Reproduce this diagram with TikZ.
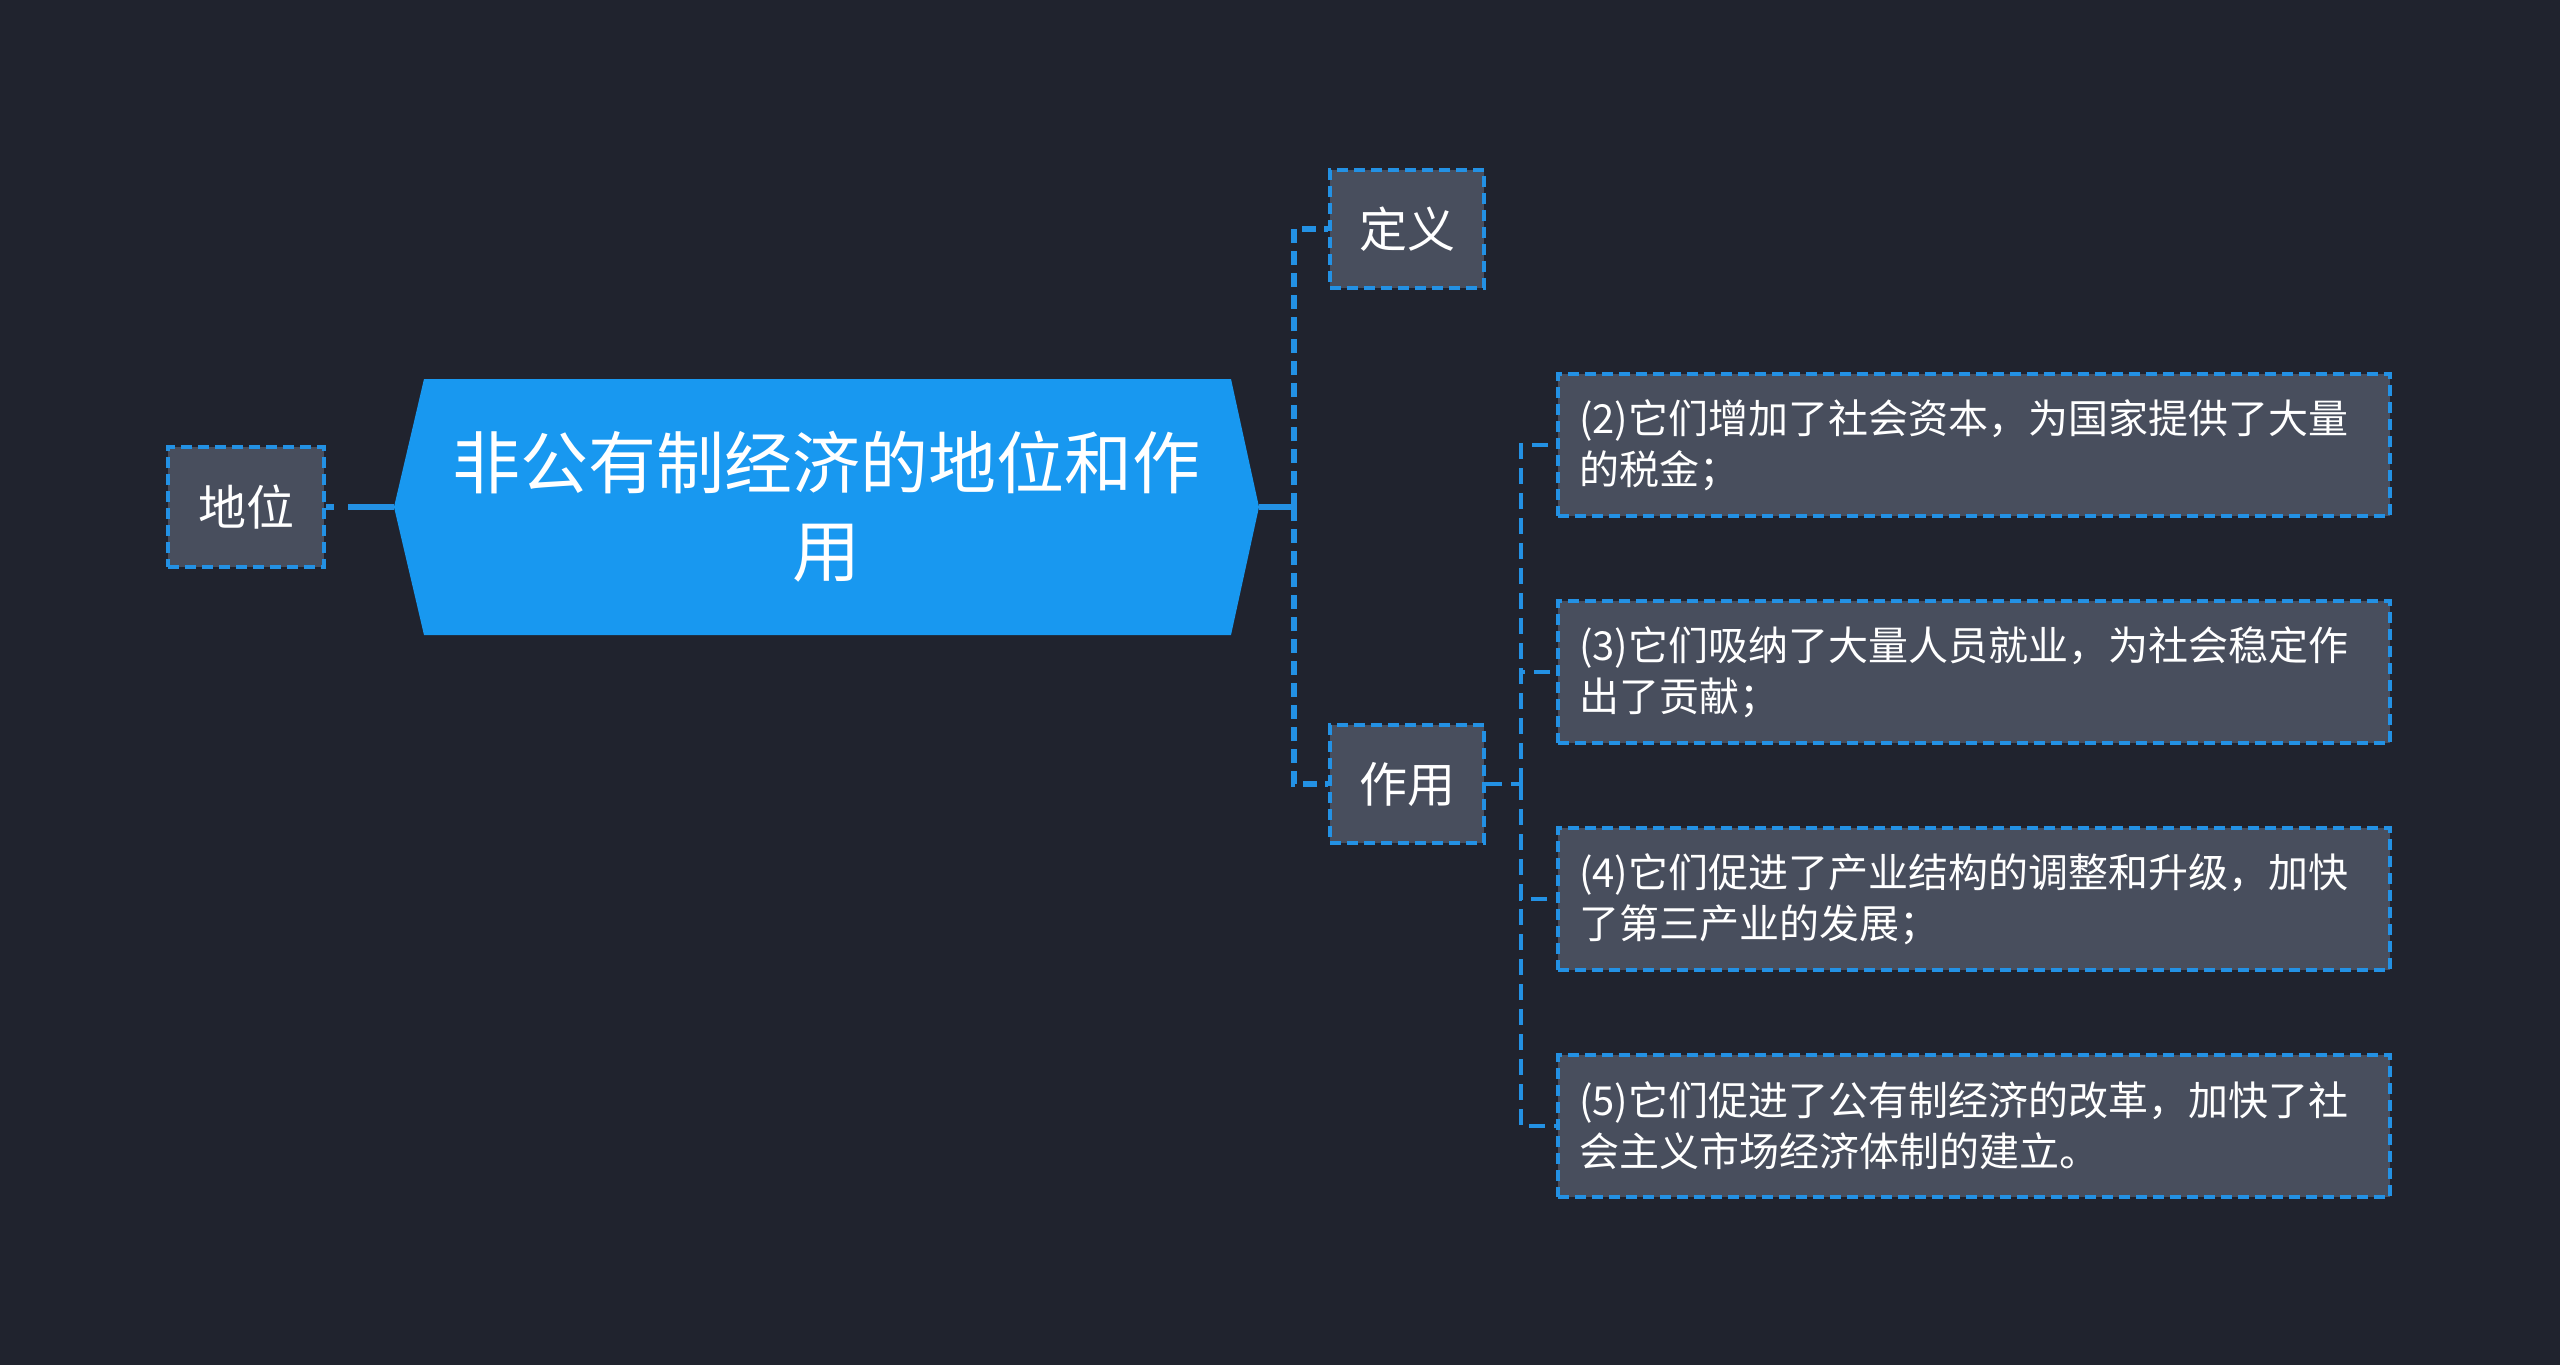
\documentclass[tikz,border=0pt]{standalone}
\usepackage{fontspec}
\newfontfamily\cjk{Noto Sans CJK SC}
\definecolor{bgc}{RGB}{32,35,46}
\definecolor{boxc}{RGB}{72,78,93}
\definecolor{hexc}{RGB}{24,152,240}
\definecolor{linec}{RGB}{35,145,228}
\tikzset{
  lbox/.style={draw=linec, fill=boxc, line width=3.5pt, dash pattern=on 11pt off 6pt,
    text=white, inner sep=0pt, minimum width=154pt, minimum height=118pt,
    font={\cjk\fontsize{48}{58}\selectfont}},
  leafbox/.style={draw=linec, fill=boxc, line width=3.5pt, dash pattern=on 11pt off 6pt,
    text=white, inner xsep=21pt, inner ysep=0pt, text width=790pt, align=left,
    minimum height=142pt, font={\cjk\fontsize{40}{51}\selectfont}},
  conn/.style={draw=linec, line width=5.5pt, dash pattern=on 14pt off 8pt},
  leafconn/.style={draw=linec, line width=3.5pt, dash pattern=on 16pt off 9pt},
}
\begin{document}
\begin{tikzpicture}[x=1pt,y=-1pt]
\useasboundingbox (0,0) rectangle (2560,1365);
\fill[bgc] (0,0) rectangle (2560,1365);
% root hexagon
\fill[hexc] (394,507) -- (424,379) -- (1231,379) -- (1259,507) -- (1231,635) -- (424,635) -- cycle;
\node[inner sep=0pt, minimum width=865pt, minimum height=256pt, text=white, align=center,
  font={\cjk\fontsize{68}{88}\selectfont}] (root) at (826.5,507) {非公有制经济的地位和作\\用};
% left
\node[lbox, minimum width=156pt, minimum height=120pt] (dw) at (246,507) {地位};
% branches
\node[lbox] (dy) at (1407,229) {定义};
\node[lbox] (zy) at (1407,784) {作用};
\node[leafbox] (l1) at (1974,445) {(2)它们增加了社会资本，为国家提供了大量\\的税金；};
\node[leafbox] (l2) at (1974,672) {(3)它们吸纳了大量人员就业，为社会稳定作\\出了贡献；};
\node[leafbox] (l3) at (1974,899) {(4)它们促进了产业结构的调整和升级，加快\\了第三产业的发展；};
\node[leafbox] (l4) at (1974,1126) {(5)它们促进了公有制经济的改革，加快了社\\会主义市场经济体制的建立。};
% connectors
\draw[draw=linec, line width=5.5pt, dash pattern=on 8pt off 14pt on 60pt off 0pt] (dw.east) -- (root.west);
\coordinate (j1) at (1294,507);
\draw[draw=linec, line width=5.5pt] (root.east) -- (j1);
\draw[conn] (j1) |- (dy.west);
\draw[conn] (j1) |- (zy.west);
\coordinate (j2) at (1521,784);
\draw[leafconn] (zy.east) -- (j2);
\draw[leafconn] (j2) |- (l1.west);
\draw[leafconn] (j2) |- (l2.west);
\draw[leafconn] (j2) |- (l3.west);
\draw[leafconn] (j2) |- (l4.west);
\end{tikzpicture}
\end{document}
